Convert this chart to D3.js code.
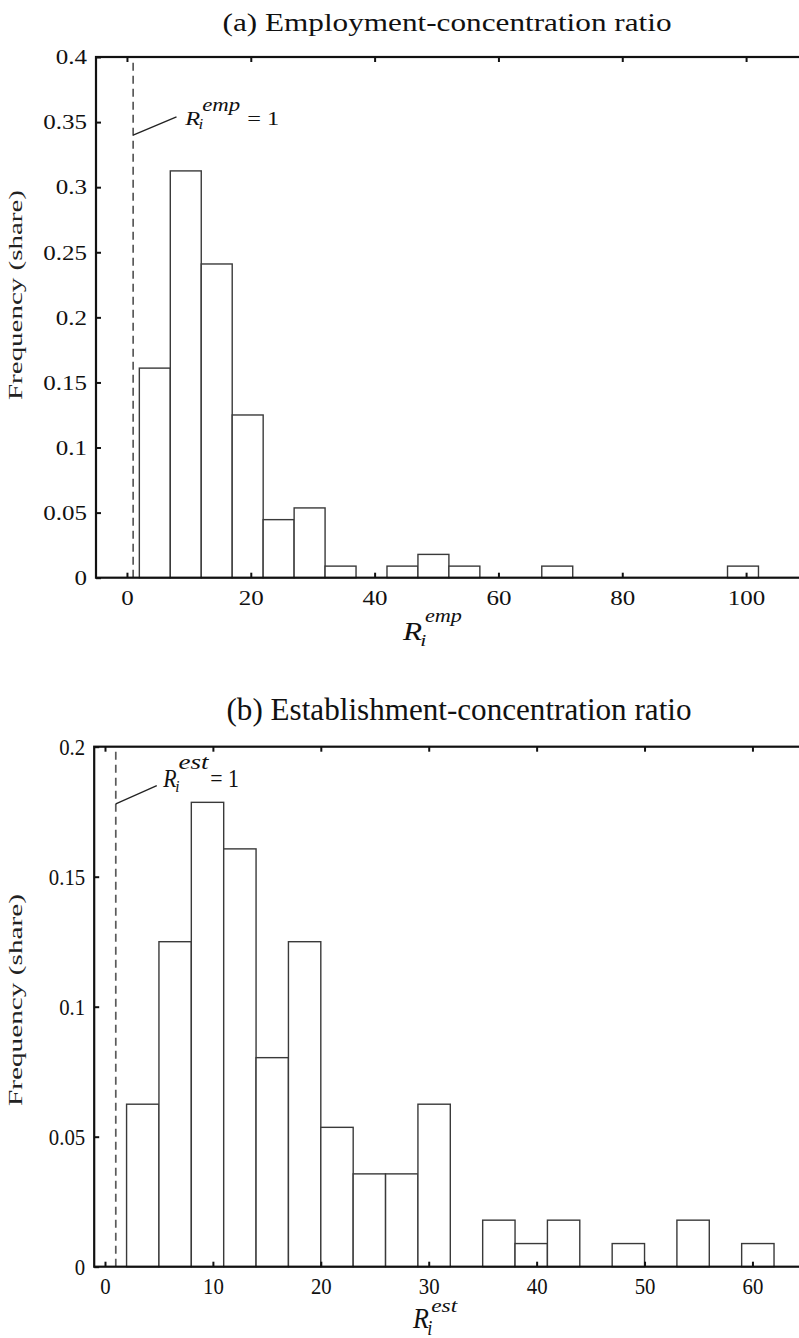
<!DOCTYPE html>
<html>
<head>
<meta charset="utf-8">
<script src="https://cdn.jsdelivr.net/npm/d3@7"></script>
<style>
body{margin:0;background:#fff;}
svg{display:block;font-family:"Liberation Serif","Times New Roman",serif;}
</style>
</head>
<body>
<svg id="chart" width="799" height="1338"></svg>
<script>
// (a) employment-concentration ratio, bins of width 5
var empBinLeft = [2, 7, 12, 17, 22, 27, 32, 42, 47, 52, 67, 97];
var empShare = [0.161, 0.3125, 0.241, 0.125, 0.0446, 0.0536, 0.0089, 0.0089, 0.0179, 0.0089, 0.0089, 0.0089];
var empBinWidth = 5;
var empXTicks = [0, 20, 40, 60, 80, 100];
var empYTicks = [0, 0.05, 0.1, 0.15, 0.2, 0.25, 0.3, 0.35, 0.4];
var empYLabels = ["0", "0.05", "0.1", "0.15", "0.2", "0.25", "0.3", "0.35", "0.4"];

// (b) establishment-concentration ratio, bins of width 3
var estBinLeft = [2, 5, 8, 11, 14, 17, 20, 23, 26, 29, 35, 38, 41, 47, 53, 59];
var estShare = [0.0625, 0.125, 0.1786, 0.1607, 0.0804, 0.125, 0.0536, 0.0357, 0.0357, 0.0625, 0.0179, 0.0089, 0.0179, 0.0089, 0.0179, 0.0089];
var estBinWidth = 3;
var estXTicks = [0, 10, 20, 30, 40, 50, 60];
var estYTicks = [0, 0.05, 0.1, 0.15, 0.2];
var estYLabels = ["0", "0.05", "0.1", "0.15", "0.2"];

var svg = d3.select("#chart");

// text with the panel's stretch (the original figure is not drawn 1:1)
function txt(g, x, y, s, size, p, o){
  o = o || {};
  var t = g.append("text")
    .attr("transform", "translate(" + x + "," + y + ") scale(" + p.sx + "," + p.sy + ")")
    .attr("font-size", size)
    .attr("text-anchor", o.anchor || "start")
    .attr("fill", "#111")
    .text(s);
  if(o.italic) t.attr("font-style", "italic");
  if(o.len) t.attr("textLength", o.len).attr("lengthAdjust", "spacingAndGlyphs");
  return t;
}

// R_i^sup ; m = {size, supSize, supLen, supUp}
function mathR(g, x, y, sup, m, p){
  var up = m.supUp || 0.72;
  txt(g, x, y, "R", m.size, p, {italic: true});
  txt(g, x + m.size * 0.55 * p.sx, y + m.size * 0.22 * p.sy, "i", m.size * 0.7, p, {italic: true});
  txt(g, x + m.size * 0.7 * p.sx, y - m.size * up * p.sy, sup, m.supSize, p, {italic: true, len: m.supLen / p.sx});
}

function drawPanel(p){
  var g = svg.append("g");
  var x = d3.scaleLinear().domain(p.xDomain).range(p.xRange);
  var y = d3.scaleLinear().domain(p.yDomain).range(p.yRange);
  var y0 = y(0), yTop = y(p.yDomain[1]);

  // bars
  var bins = p.binLeft.map(function(d, i){ return {x0: d, x1: d + p.binWidth, v: p.share[i]}; });
  g.selectAll("rect.bar")
    .data(bins)
    .enter()
    .append("rect")
    .attr("class", "bar")
    .attr("x", function(d){ return x(d.x0); })
    .attr("y", function(d){ return y(d.v); })
    .attr("width", function(d){ return x(d.x1) - x(d.x0); })
    .attr("height", function(d){ return y0 - y(d.v); })
    .attr("fill", "#fff")
    .attr("stroke", "#3a3a3a")
    .attr("stroke-width", 1.4);

  // R_i = 1 reference line
  g.append("line")
    .attr("x1", x(1)).attr("x2", x(1))
    .attr("y1", y0).attr("y2", yTop)
    .attr("stroke", "#5a5a5a")
    .attr("stroke-width", 1.7)
    .attr("stroke-dasharray", "8,5");

  // frame
  g.append("rect")
    .attr("x", p.xRange[0]).attr("y", yTop)
    .attr("width", p.xRange[1] - p.xRange[0])
    .attr("height", y0 - yTop)
    .attr("fill", "none")
    .attr("stroke", "#111")
    .attr("stroke-width", 2.2);

  // axes, ticks pointing inward
  var gx = g.append("g")
    .attr("transform", "translate(0," + y0 + ")")
    .call(d3.axisBottom(x).tickValues(p.xTicks).tickSize(-5).tickFormat(d3.format("d")));
  var gt = g.append("g")
    .attr("transform", "translate(0," + yTop + ")")
    .call(d3.axisTop(x).tickValues(p.xTicks).tickSize(-5).tickFormat(""));
  var gy = g.append("g")
    .attr("transform", "translate(" + p.xRange[0] + ",0)")
    .call(d3.axisLeft(y).tickValues(p.yTicks).tickSize(-5).tickFormat(function(d, i){ return p.yLabels[i]; }));

  [gx, gt, gy].forEach(function(a){
    a.select(".domain").remove();
    a.selectAll(".tick line").attr("stroke", "#111").attr("stroke-width", 2);
    a.attr("font-family", null).attr("font-size", null);
  });
  gx.selectAll(".tick text")
    .attr("x", null).attr("y", null).attr("dy", null)
    .attr("transform", "translate(0,27) scale(" + p.sx + "," + p.sy + ")")
    .attr("font-size", 20).attr("fill", "#111");
  gy.selectAll(".tick text")
    .attr("x", null).attr("y", null).attr("dy", null)
    .attr("text-anchor", "end")
    .attr("transform", "translate(-9," + (6.8 * p.sy) + ") scale(" + p.sx + "," + p.sy + ")")
    .attr("font-size", 20).attr("fill", "#111");

  // title
  txt(g, p.title.x, p.title.y, p.title.text, 26, p, {anchor: "middle", len: p.title.len / p.sx});

  // y label
  g.append("text")
    .attr("transform", "translate(" + p.yLab.x + "," + p.yLab.y + ") rotate(-90)")
    .attr("font-size", p.yLab.size)
    .attr("text-anchor", "middle")
    .attr("textLength", p.yLab.len)
    .attr("lengthAdjust", "spacingAndGlyphs")
    .attr("fill", "#222")
    .text("Frequency (share)");

  // x label
  mathR(g, p.xLab.x, p.xLab.y, p.sup, p.xLab, p);

  // annotation of the dashed line
  var a = p.note;
  g.append("line")
    .attr("x1", x(1)).attr("y1", y(a.from))
    .attr("x2", x(a.to[0])).attr("y2", y(a.to[1]))
    .attr("stroke", "#222").attr("stroke-width", 1.3);
  var ax = x(a.at[0]), ay = y(a.at[1]);
  mathR(g, ax, ay, p.sup, a, p);
  txt(g, ax + a.eqDx, ay, "= 1", a.size, p);
}

drawPanel({
  xDomain: [-5, 110], xRange: [96, 808],
  yDomain: [0, 0.4], yRange: [577.7, 57],
  binLeft: empBinLeft, share: empShare, binWidth: empBinWidth,
  xTicks: empXTicks, yTicks: empYTicks, yLabels: empYLabels,
  sx: 1.25, sy: 1,
  sup: "emp",
  title: {text: "(a) Employment-concentration ratio", x: 447, y: 31, len: 449},
  yLab: {x: 22, y: 295, size: 18, len: 210},
  xLab: {x: 403, y: 640, size: 25, supSize: 18, supLen: 37},
  note: {from: 0.34, to: [8, 0.354], at: [9.4, 0.348], size: 19.5, supSize: 18, supLen: 38, eqDx: 62}
});

drawPanel({
  xDomain: [-1, 65], xRange: [94.2, 806.4],
  yDomain: [0, 0.2], yRange: [1266.7, 746.7],
  binLeft: estBinLeft, share: estShare, binWidth: estBinWidth,
  xTicks: estXTicks, yTicks: estYTicks, yLabels: estYLabels,
  sx: 1.04, sy: 1.2,
  sup: "est",
  title: {text: "(b) Establishment-concentration ratio", x: 459, y: 720, len: 465},
  yLab: {x: 22, y: 1000, size: 18, len: 212},
  xLab: {x: 413, y: 1328, size: 25, supSize: 16, supLen: 26, supUp: 0.55},
  note: {from: 0.178, to: [4.8, 0.185], at: [5.4, 0.1846], size: 21, supSize: 17, supLen: 30, eqDx: 47}
});
</script>
</body>
</html>
